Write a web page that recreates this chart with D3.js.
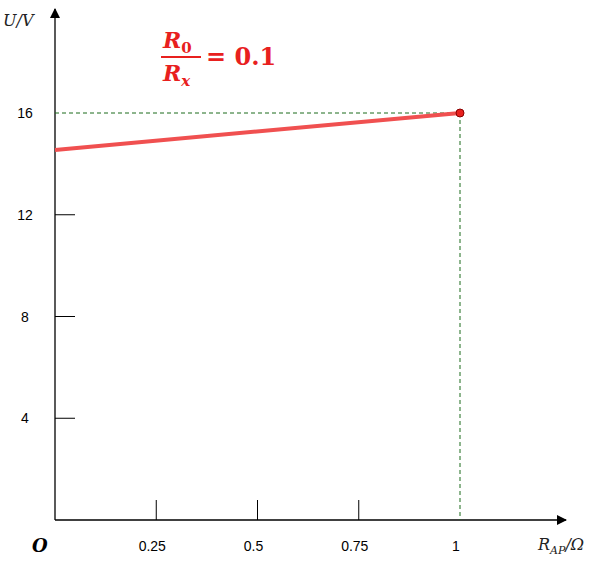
<!DOCTYPE html>
<html><head><meta charset="utf-8">
<script src="https://cdn.jsdelivr.net/npm/d3@7"></script>
<style>body{margin:0;background:#fff}</style>
</head><body>
<svg id="chart" width="615" height="562"></svg>
<script>
// values
var xTicks = [0.25, 0.5, 0.75, 1];
var xTickLabels = ["0.25", "0.5", "0.75", "1"];
var yTicks = [4, 8, 12, 16];
var lineR = [0, 1];
var lineU = [14.55, 16];
var markR = 1, markU = 16;

var svg = d3.select('#chart');
var x = d3.scaleLinear().domain([0, 1]).range([55, 460]);
var y = d3.scaleLinear().domain([0, 16]).range([520, 113]);

// axes with arrows
svg.append('defs').append('marker')
    .attr('id', 'arr').attr('viewBox', '0 0 10 10').attr('refX', 9).attr('refY', 5)
    .attr('markerWidth', 10).attr('markerHeight', 10).attr('orient', 'auto')
    .attr('markerUnits', 'userSpaceOnUse')
  .append('path').attr('d', 'M0,0 L10,5 L0,10 Z').attr('fill', '#000');

svg.append('line').attr('x1', x(0)).attr('y1', y(0)).attr('x2', 566).attr('y2', y(0))
    .attr('stroke', '#000').attr('stroke-width', 1.3).attr('marker-end', 'url(#arr)');
svg.append('line').attr('x1', x(0)).attr('y1', y(0)).attr('x2', x(0)).attr('y2', 9)
    .attr('stroke', '#000').attr('stroke-width', 1.3).attr('marker-end', 'url(#arr)');

// x ticks (up from axis, except 1)
svg.selectAll('.xt').data(xTicks.filter(function(d){return d < 1;})).enter().append('line')
    .attr('x1', function(d){return x(d);}).attr('x2', function(d){return x(d);})
    .attr('y1', y(0)).attr('y2', y(0) - 20).attr('stroke', '#000');
svg.selectAll('.xl').data(xTicks).enter().append('text')
    .attr('x', function(d){return x(d) - 4;}).attr('y', 551)
    .attr('text-anchor', 'middle').attr('font-family', 'Liberation Sans, Arial').attr('font-size', 14)
    .text(function(d, i){return xTickLabels[i];});

// y ticks
svg.selectAll('.yt').data(yTicks.filter(function(d){return d < 16;})).enter().append('line')
    .attr('x1', x(0)).attr('x2', x(0) + 20)
    .attr('y1', function(d){return y(d);}).attr('y2', function(d){return y(d);}).attr('stroke', '#000');
svg.selectAll('.yl').data(yTicks).enter().append('text')
    .attr('x', 25).attr('y', function(d){return y(d) + 5;})
    .attr('text-anchor', 'middle').attr('font-family', 'Liberation Sans, Arial').attr('font-size', 14)
    .text(function(d){return d;});

// dashed guides
var green = '#1a6b1a';
svg.append('line').attr('x1', x(0)).attr('x2', x(markR)).attr('y1', y(markU)).attr('y2', y(markU))
    .attr('stroke', green).attr('stroke-dasharray', '4,3');
svg.append('line').attr('x1', x(markR)).attr('x2', x(markR)).attr('y1', y(markU)).attr('y2', y(0))
    .attr('stroke', green).attr('stroke-dasharray', '4,3');

// red line
svg.append('path')
    .datum(lineR.map(function(r, i){return [r, lineU[i]];}))
    .attr('d', d3.line().x(function(d){return x(d[0]);}).y(function(d){return y(d[1]);}))
    .attr('fill', 'none').attr('stroke', '#f05050').attr('stroke-width', 4);
svg.append('circle').attr('cx', x(markR)).attr('cy', y(markU)).attr('r', 4)
    .attr('fill', '#e8201e').attr('stroke', '#800').attr('stroke-width', 1);

// labels
var serif = 'DejaVu Serif, Liberation Serif, serif';
svg.append('text').attr('x', 3).attr('y', 26).attr('font-family', serif).attr('font-style', 'italic')
    .attr('font-size', 16).attr('fill', '#222').text('U/V');
var rl = svg.append('text').attr('x', 538).attr('y', 550).attr('font-family', serif)
    .attr('font-style', 'italic').attr('font-size', 16).attr('fill', '#222');
rl.append('tspan').text('R');
rl.append('tspan').attr('font-size', 11).attr('dy', 4).text('AP');
rl.append('tspan').attr('dy', -4).text('/Ω');
svg.append('text').attr('x', 32).attr('y', 552).attr('font-family', serif).attr('font-style', 'italic')
    .attr('font-weight', 'bold').attr('font-size', 18).text('O');

// R0/Rx = 0.1
var red = '#e8201e';
var f = svg.append('g').attr('fill', red).attr('font-family', serif).attr('font-weight', 'bold')
    .attr('font-style', 'italic').attr('font-size', 22);
var n = f.append('text').attr('x', 163).attr('y', 48);
n.append('tspan').text('R');
n.append('tspan').attr('font-size', 15).attr('font-style', 'normal').attr('dy', 5).text('0');
f.append('line').attr('x1', 161).attr('x2', 201).attr('y1', 57).attr('y2', 57).attr('stroke', red).attr('stroke-width', 2);
var d = f.append('text').attr('x', 163).attr('y', 81);
d.append('tspan').text('R');
d.append('tspan').attr('font-size', 15).attr('dy', 5).text('x');
f.append('text').attr('x', 206).attr('y', 65).attr('font-style', 'normal').attr('font-size', 24).text('= 0.1');
</script>
</body></html>
